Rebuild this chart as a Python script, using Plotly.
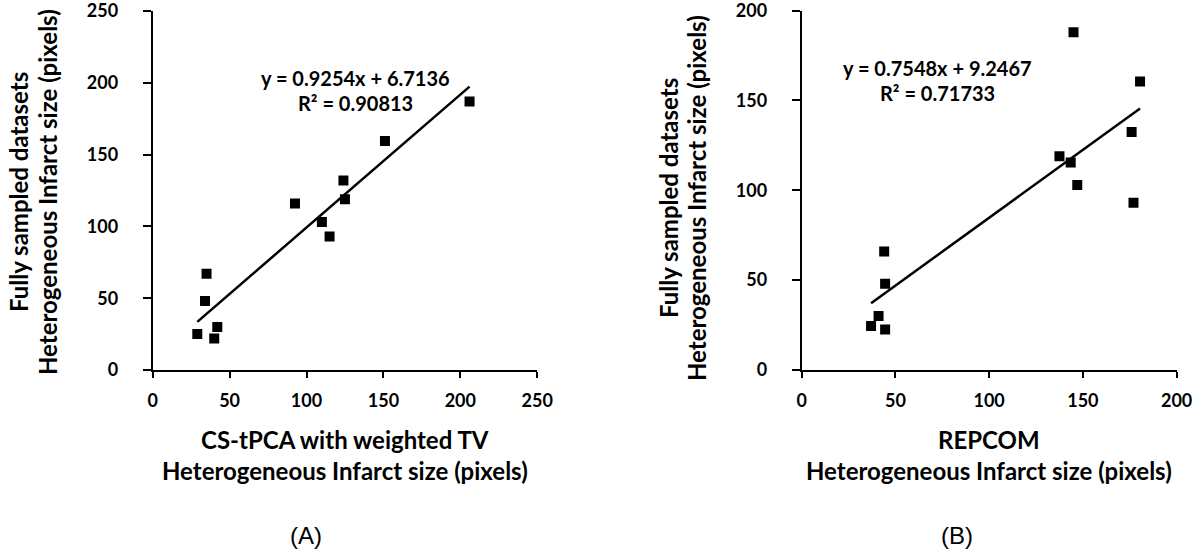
import plotly.graph_objects as go

# ---- Data ----
a_x = [29, 35, 34, 42, 40, 92.5, 110, 115, 124, 125, 151, 206]
a_y = [25, 67, 48, 30, 22, 116, 103, 93, 132, 119, 159.5, 187]
a_slope, a_intercept, a_r2 = 0.9254, 6.7136, 0.90813

b_x = [37, 41, 44.5, 44, 44.5, 137.5, 143.5, 147, 145, 176, 177, 180.5]
b_y = [24.5, 30, 22.5, 66, 48, 119, 115.5, 103, 188, 132.5, 93, 160.5]
b_slope, b_intercept, b_r2 = 0.7548, 9.2467, 0.71733

a_ticks = [0, 50, 100, 150, 200, 250]
b_ticks = [0, 50, 100, 150, 200]

a_xtitle = ["CS-tPCA with weighted TV", "Heterogeneous Infarct size (pixels)"]
b_xtitle = ["REPCOM", "Heterogeneous Infarct size (pixels)"]
ytitle = ["Fully sampled datasets", "Heterogeneous Infarct size (pixels)"]
panel_labels = ["(A)", "(B)"]

W, H = 1200, 555
FONT = "Lato"


def px(x):
    return x / W


def py(y):
    return 1 - y / H


fig = go.Figure()

# markers
fig.add_trace(go.Scatter(x=a_x, y=a_y, mode="markers",
                         marker=dict(symbol="square", size=10, color="black"),
                         xaxis="x", yaxis="y", showlegend=False))
fig.add_trace(go.Scatter(x=b_x, y=b_y, mode="markers",
                         marker=dict(symbol="square", size=10, color="black"),
                         xaxis="x2", yaxis="y2", showlegend=False))

# trend lines over data range
ax_rng = [min(a_x), max(a_x)]
fig.add_trace(go.Scatter(x=ax_rng, y=[a_slope * v + a_intercept for v in ax_rng],
                         mode="lines", line=dict(color="black", width=2.5),
                         xaxis="x", yaxis="y", showlegend=False))
bx_rng = [min(b_x), max(b_x)]
fig.add_trace(go.Scatter(x=bx_rng, y=[b_slope * v + b_intercept for v in bx_rng],
                         mode="lines", line=dict(color="black", width=2.5),
                         xaxis="x2", yaxis="y2", showlegend=False))

tickfont = dict(family=FONT, size=18, color="black", weight="bold")
common = dict(showline=True, linecolor="black", linewidth=2, showgrid=False,
              zeroline=False, ticks="outside", tickcolor="black", tickwidth=2,
              tickfont=tickfont, fixedrange=True, ticklabeloverflow="allow",
              automargin=False)

fig.update_layout(
    width=W, height=H,
    margin=dict(l=0, r=0, t=0, b=0),
    paper_bgcolor="white", plot_bgcolor="white",
    xaxis=dict(domain=[px(152.7), px(537.3)], range=[0, 250.05], tickvals=a_ticks,
               ticklen=6, ticklabelstandoff=7, anchor="y", **common),
    yaxis=dict(domain=[py(370), py(11)], range=[0, 250.05], tickvals=a_ticks,
               ticklen=8, ticklabelstandoff=21, anchor="x", **common),
    xaxis2=dict(domain=[px(801.7), px(1176.7)], range=[0, 200.05], tickvals=b_ticks,
                ticklen=6, ticklabelstandoff=7, anchor="y2", **common),
    yaxis2=dict(domain=[py(370), py(10.5)], range=[0, 200.05], tickvals=b_ticks,
                ticklen=8, ticklabelstandoff=21, anchor="x2", **common),
)

tfont = dict(family=FONT, size=24, color="black", weight="bold")
efont = dict(family=FONT, size=20, color="black", weight="bold")
annots = []


def text(x, y, s, font, angle=0):
    annots.append(dict(x=px(x), y=py(y), xref="paper", yref="paper", text=s,
                       showarrow=False, font=font, textangle=angle,
                       xanchor="center", yanchor="middle"))


# x titles
text(345, 439, a_xtitle[0], tfont)
text(345, 470, a_xtitle[1], tfont)
text(989, 439, b_xtitle[0], tfont)
text(989, 470, b_xtitle[1], tfont)
# y titles
text(18, 192, ytitle[0], tfont, -90)
text(47, 192, ytitle[1], tfont, -90)
text(668, 198, ytitle[0], tfont, -90)
text(696, 198, ytitle[1], tfont, -90)
# equations
text(355, 77.5, f"y = {a_slope}x + {a_intercept}", efont)
text(355, 102.5, f"R² = {a_r2}", efont)
text(937, 68, f"y = {b_slope}x + {b_intercept}", efont)
text(937, 93, f"R² = {b_r2}", efont)
# panel labels
pfont = dict(family="Liberation Sans", size=24, color="black")
text(306, 535, panel_labels[0], pfont)
text(957, 535, panel_labels[1], pfont)

fig.update_layout(annotations=annots)
fig.write_html(
    "out.html",
    config={"displayModeBar": False},
    post_script="document.body.style.margin='0';document.body.style.overflow='hidden';",
)
